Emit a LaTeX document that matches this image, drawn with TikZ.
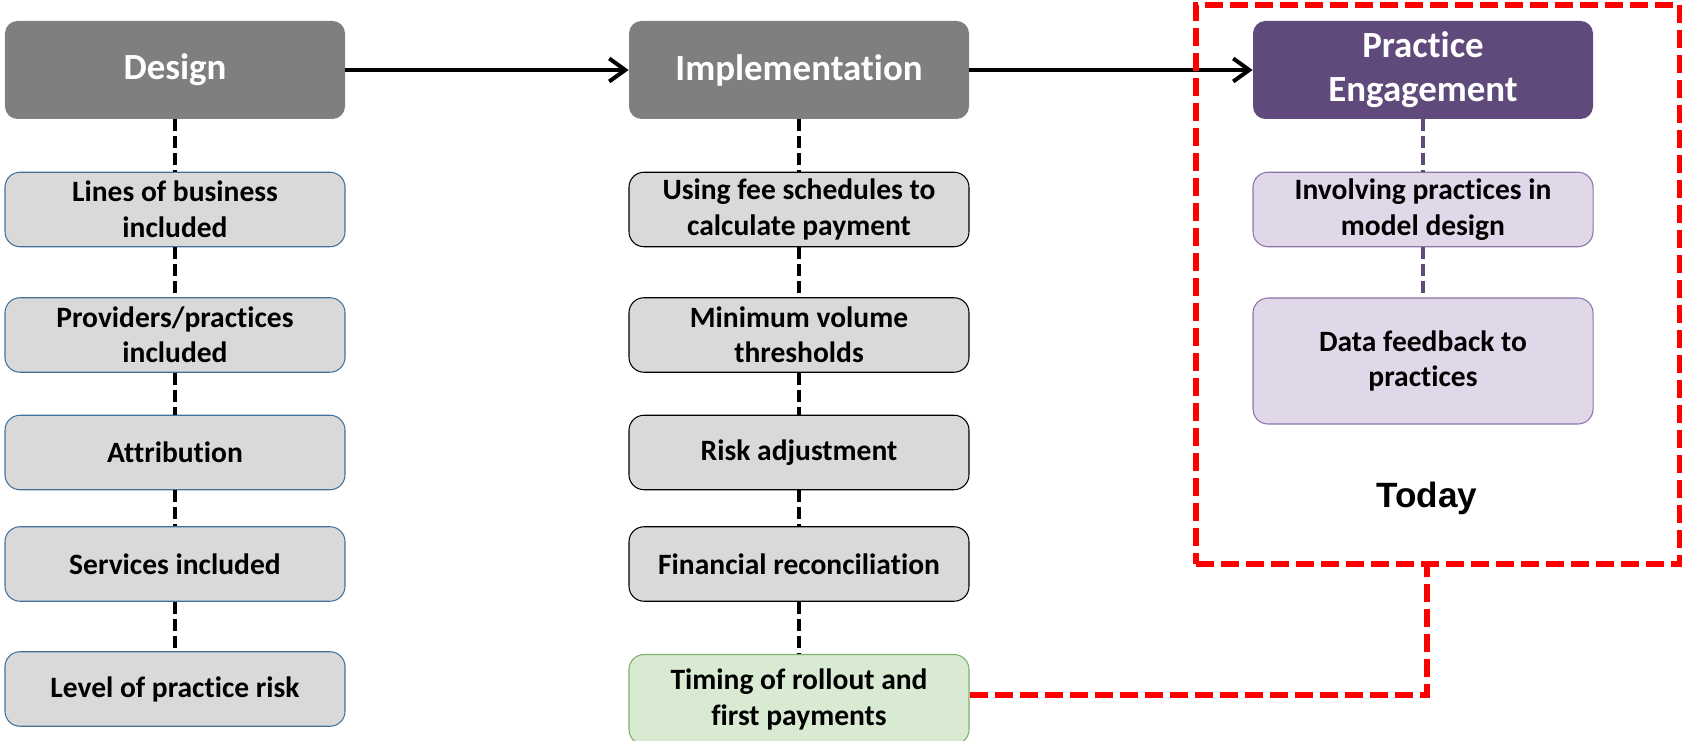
\documentclass[tikz,border=0pt]{standalone}
\usepackage{fontspec}
\setmainfont{Carlito}[Ligatures={NoCommon,NoContextual}]
\newfontfamily\todayfont{Liberation Sans}
\usetikzlibrary{arrows.meta,positioning}

\definecolor{headgray}{HTML}{7F7F7F}
\definecolor{headpurple}{HTML}{604A7B}
\definecolor{boxgray}{HTML}{D9D9D9}
\definecolor{bluerim}{HTML}{41719C}
\definecolor{boxlilac}{HTML}{E0D7E9}
\definecolor{lilacrim}{HTML}{8B74A8}
\definecolor{boxgreen}{HTML}{D9EAD3}
\definecolor{greenrim}{HTML}{7FAF68}

\begin{document}
\begin{tikzpicture}[>={Straight Barb[length=3.2mm,width=4.6mm]},
	head/.style={rectangle,rounded corners=0.25cm,fill=headgray,text=white,align=center,
		minimum width=6.8cm,minimum height=1.96cm,font=\fontsize{21}{25}\selectfont\bfseries},
	item/.style={rectangle,rounded corners=0.3cm,draw=bluerim,fill=boxgray,line width=0.6pt,align=center,
		minimum width=6.8cm,minimum height=1.49cm,font=\fontsize{16.8}{20.2}\selectfont\bfseries},
	link/.style={line width=0.075cm,dash pattern=on 0.24cm off 0.1cm},
	flow/.style={->,line width=0.08cm},
	redline/.style={draw=red,line width=0.12cm,dash pattern=on 0.36cm off 0.14cm}
	]

	\useasboundingbox (0,0) rectangle (33.64,14.82);

	\node[head] (des) at (3.50,13.42) {Design};
	\node[head] (imp) at (15.98,13.42) {Implementation};
	\node[head,fill=headpurple] (eng) at (28.46,13.42) {Practice\\Engagement};

	\node[item] (des1) at (3.50,10.63) {Lines of business\\included};
	\node[item] (des2) at (3.50,8.12) {Providers/practices\\included};
	\node[item] (des3) at (3.50,5.77) {Attribution};
	\node[item] (des4) at (3.50,3.54) {Services included};
	\node[item] (des5) at (3.50,1.04) {Level of practice risk};

	\node[item,draw=black] (imp1) at (15.98,10.63) {Using fee schedules to\\calculate payment};
	\node[item,draw=black] (imp2) at (15.98,8.12) {Minimum volume\\thresholds};
	\node[item,draw=black] (imp3) at (15.98,5.77) {Risk adjustment};
	\node[item,draw=black] (imp4) at (15.98,3.54) {Financial reconciliation};
	\node[item,draw=greenrim,fill=boxgreen,minimum height=1.8cm] (imp5) at (15.98,0.83) {Timing of rollout and\\first payments};

	\node[item,draw=lilacrim,fill=boxlilac] (eng1) at (28.46,10.63) {Involving practices in\\model design};
	\node[item,draw=lilacrim,fill=boxlilac,minimum height=2.52cm] (eng2) at (28.46,7.60) {Data feedback to\\practices};

	\node[font=\todayfont\fontsize{20}{24}\selectfont\bfseries] (today) at (28.54,4.86) {Today};

	\draw[flow] (des) -- (imp);
	\draw[flow] (imp) -- (eng);

	\draw[link] (des) -- (des1);
	\draw[link] (des1) -- (des2);
	\draw[link] (des2) -- (des3);
	\draw[link] (des3) -- (des4);
	\draw[link] (des4) -- (des5);

	\draw[link] (imp) -- (imp1);
	\draw[link] (imp1) -- (imp2);
	\draw[link] (imp2) -- (imp3);
	\draw[link] (imp3) -- (imp4);
	\draw[link] (imp4) -- (imp5);

	\draw[link,headpurple] (eng) -- (eng1);
	\draw[link,headpurple] (eng1) -- (eng2);

	\node[redline,minimum width=9.68cm,minimum height=11.18cm] (frame) at (28.76,9.13) {};
	\coordinate (bend) at (28.54,0.92);
	\draw[redline] (imp5.east |- bend) -- (bend) -- (bend |- frame.south);

\end{tikzpicture}
\end{document}
